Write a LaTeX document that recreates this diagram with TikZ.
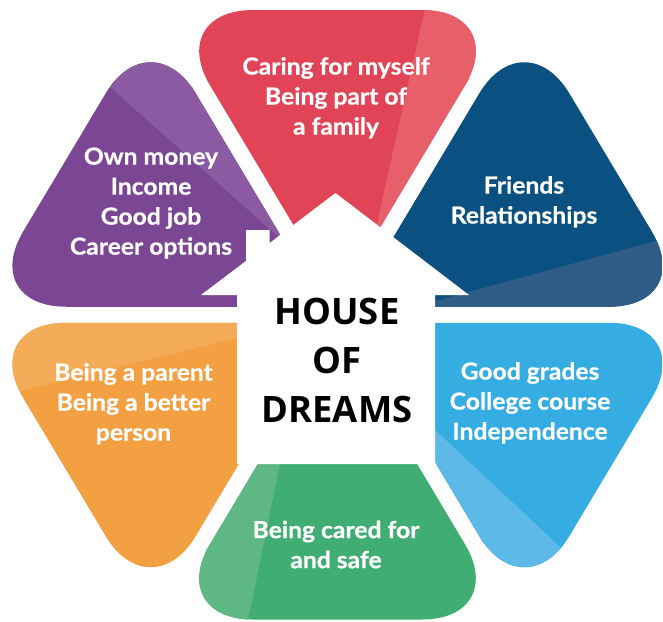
\documentclass[tikz,border=0pt]{standalone}
\usepackage{fontspec}
\newfontfamily\petalfont{Lato}[UprightFont={* Bold}, FakeStretch=1.05, FakeBold=0.6]
\newfontfamily\housefont{Open Sans}
\usetikzlibrary{calc}
\definecolor{redM}{HTML}{E14456}
\definecolor{redL}{HTML}{E65F69}
\definecolor{purM}{HTML}{7B4795}
\definecolor{purL}{HTML}{8A5BA3}
\definecolor{dbM}{HTML}{0A5080}
\definecolor{dbL}{HTML}{2F5D87}
\definecolor{lbM}{HTML}{35ADE2}
\definecolor{lbL}{HTML}{5DB9E8}
\definecolor{grM}{HTML}{40AE73}
\definecolor{grL}{HTML}{5FB884}
\definecolor{orM}{HTML}{F3A043}
\definecolor{orL}{HTML}{F5AC59}
\newcommand\drawpetal[6]{%
  \begin{scope}
    \clip ($(#1)!0.5!(#2)$) [rounded corners=88pt] -- (#2) -- (#3) -- ($(#1)!0.5!(#3)$) [sharp corners] -- (#1) -- cycle;
    \fill[#4] (-20,-20) rectangle (690,640);
    \fill[#5] #6;
  \end{scope}}
\tikzset{
  petaltext/.style={text=white, align=center, inner sep=0pt,
    font=\petalfont\fontsize{23.5}{30}\selectfont},
  housetext/.style={text=black, align=center, inner sep=0pt,
    font=\housefont\bfseries\fontsize{36.4}{49}\selectfont}
}
\begin{document}
\begin{tikzpicture}[x=1pt,y=-1pt]
\useasboundingbox (0,0) rectangle (663,621);
\fill[white] (0,0) rectangle (663,621);
% petal vertices
\coordinate (RA) at (337.5,298.75); \coordinate (R1) at (165,10);     \coordinate (R2) at (510,10);
\coordinate (GA) at (337.5,330.75); \coordinate (G1) at (510,619.5);  \coordinate (G2) at (165,619.5);
\coordinate (PA) at (323.2,306.75); \coordinate (P1) at (-21.8,306.75); \coordinate (P2) at (150.7,18);
\coordinate (OA) at (323.2,322.75); \coordinate (O1) at (150.7,611.5); \coordinate (O2) at (-21.8,322.75);
\coordinate (BA) at (351.8,306.75); \coordinate (B1) at (524.3,18);   \coordinate (B2) at (696.8,306.75);
\coordinate (LA) at (351.8,322.75); \coordinate (L1) at (696.8,322.75); \coordinate (L2) at (524.3,611.5);
% petals
\drawpetal{RA}{R1}{R2}{redM}{redL}{(431.4,-20) -- (355.3,320) -- (700,320) -- (700,-20) -- cycle}
\drawpetal{PA}{P1}{P2}{purM}{purL}{(-20,-28.7) -- (340,291.7) -- (340,-30) -- (-20,-30) -- cycle}
\drawpetal{BA}{B1}{B2}{dbM}{dbL}{(340,327) -- (700,229) -- (700,340) -- (340,340) -- cycle}
\drawpetal{LA}{L1}{L2}{lbM}{lbL}{(340,341) -- (620,603) -- (620,640) -- (340,640) -- cycle}
\drawpetal{GA}{G1}{G2}{grM}{grL}{(313.6,300) -- (243.9,640) -- (100,640) -- (100,300) -- cycle}
\drawpetal{OA}{O1}{O2}{orM}{orL}{(-20,400.4) -- (340,313) -- (340,290) -- (-20,290) -- cycle}
% house
\fill[white] (237,464) -- (237,295) -- (201,295) -- (246,260.9) -- (246,230) -- (269.5,230)
  -- (269.5,243.1) -- (335.5,193) -- (469,295) -- (435,295) -- (435,464) -- cycle;
% texts
\node[petaltext] (tred) at (336,97.8) {Caring for myself\\Being part of\\a family};
\node[petaltext] (tpur) at (151,203) {Own money\\Income\\Good job\\Career options};
\node[petaltext] (tdb) at (524,201.8) {Friends\\Relationships};
\node[petaltext] (tlb) at (530,402.8) {Good grades\\College course\\Independence};
\node[petaltext] (tgr) at (336,544.5) {Being cared for\\and safe};
\node[petaltext] (tor) at (133.5,403.8) {Being a parent\\Being a better\\person};
\node[housetext] (title) at (337,360.3) {HOUSE\\OF\\DREAMS};
\end{tikzpicture}
\end{document}
